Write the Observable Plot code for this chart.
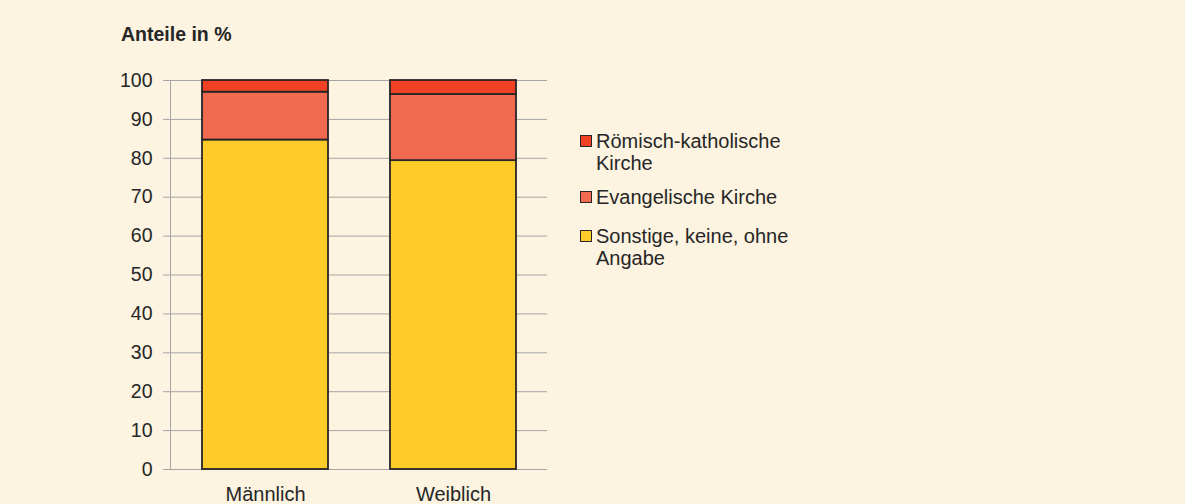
<!DOCTYPE html>
<html><head><meta charset="utf-8">
<script src="https://cdn.jsdelivr.net/npm/d3@7"></script>
<script src="https://cdn.jsdelivr.net/npm/@observablehq/plot@0.6"></script>
<style>
html,body{margin:0;padding:0;background:#FCF3E0;}
#wrap{position:relative;width:1185px;height:504px;background:#FCF3E0;font-family:"Liberation Sans",Arial,sans-serif;color:#262626;}
#title{position:absolute;left:121px;top:24px;font-weight:bold;font-size:19.5px;line-height:20px;}
#legend{position:absolute;left:580px;top:130px;font-size:20px;line-height:22px;}
.li{position:relative;padding-left:16px;width:260px;}
.sw{position:absolute;left:0;top:5px;width:10px;height:10px;border:1px solid #262626;}
</style></head><body>
<div id="wrap"><div id="title">Anteile in %</div><div id="legend"></div></div>
<script>
const genders = ["Männlich", "Weiblich"];
const seriesNames = ["Sonstige, keine, ohne Angabe", "Evangelische Kirche", "Römisch-katholische Kirche"];
const sonstige = [84.7, 79.4];
const evangelisch = [12.3, 17.0];
const katholisch = [3.0, 3.6];
const colors = ["#FFCB29", "#F26A50", "#F04124"];
const yTicks = [0,10,20,30,40,50,60,70,80,90,100];

const seriesValues = [sonstige, evangelisch, katholisch];
const data = [];
seriesNames.forEach((s, si) => genders.forEach((g, gi) => data.push({gender: g, series: s, value: seriesValues[si][gi]})));

const plot = Plot.plot({
  width: 1185, height: 504,
  marginLeft: 170, marginRight: 638, marginTop: 80, marginBottom: 35,
  style: {background: "transparent", fontFamily: "'Liberation Sans', Arial, sans-serif", fontSize: "20px", color: "#262626"},
  x: {domain: genders, paddingInner: 0.33, paddingOuter: 0.165, label: null},
  y: {domain: [0, 100], label: null},
  color: {domain: seriesNames, range: colors},
  marks: [
    Plot.ruleY(yTicks, {stroke: "#A6A6A6", strokeWidth: 1, strokeOpacity: 1}),
    Plot.frame({anchor: "left", stroke: "#A6A6A6", strokeOpacity: 1}),
    Plot.axisY({ticks: yTicks, tickSize: 7, tickPadding: 11, stroke: "#A6A6A6", strokeOpacity: 1, fill: "#262626", fontSize: 19.5, label: null}),
    Plot.axisX({tickSize: 0, tickPadding: 17, fill: "#262626", fontSize: 20, label: null}),
    Plot.barY(data, {x: "gender", y: "value", fill: "series", stroke: "#262626", strokeWidth: 1.8, order: null})
  ]
});
document.getElementById("wrap").prepend(plot);
plot.style.position = "absolute"; plot.style.left = "0"; plot.style.top = "0";

const legendItems = [
  {html: "Römisch-katholische<br>Kirche", color: colors[2], mt: 0},
  {html: "Evangelische Kirche", color: colors[1], mt: 12},
  {html: "Sonstige, keine, ohne<br>Angabe", color: colors[0], mt: 17}
];
const lg = document.getElementById("legend");
legendItems.forEach(it => {
  const d = document.createElement("div");
  d.className = "li"; d.style.marginTop = it.mt + "px";
  d.innerHTML = `<span class="sw" style="background:${it.color}"></span>${it.html}`;
  lg.appendChild(d);
});
</script>
</body></html>
